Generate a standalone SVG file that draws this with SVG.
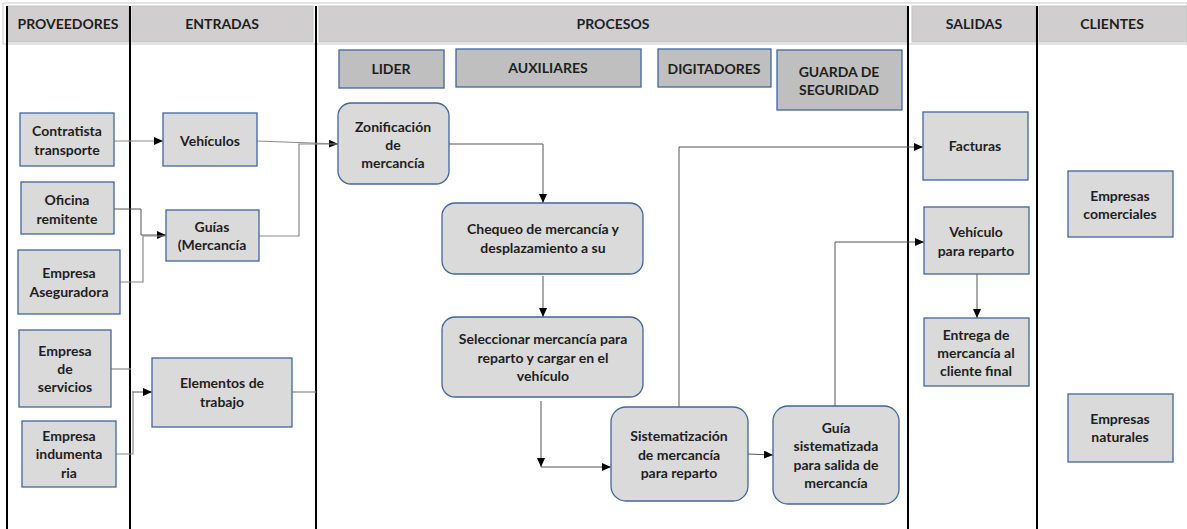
<svg xmlns="http://www.w3.org/2000/svg" width="1187" height="529" viewBox="0 0 1187 529">
<style>
  text{font-family:"Lato","Liberation Sans",sans-serif;font-weight:bold;font-size:14px;fill:#1e1e1e;text-anchor:middle}
  .hd{fill:#d0cece;stroke:#c4c4c4;stroke-width:1}
  .hdt{font-size:14px}
  .box{fill:#dadada;stroke:#41669e;stroke-width:1.3}
  .role{fill:#bfbfbf;stroke:#41669e;stroke-width:1.3}
  .lane{stroke:#000;stroke-width:2}
  .c{fill:none;stroke:#555;stroke-width:1}
  .cg{fill:none;stroke:#8a8a8a;stroke-width:1.2}
</style>
<defs>
  <marker id="ah" markerWidth="9" markerHeight="8" refX="9" refY="4" orient="auto" markerUnits="userSpaceOnUse">
    <path d="M0,0 L9,4 L0,8 z" fill="#000"/>
  </marker>
</defs>
<rect width="1187" height="529" fill="#fff"/>

<g id="header">
  <rect x="3" y="3" width="1184" height="41" fill="none" stroke="#c8c8c8" stroke-width="1"/>
  <rect class="hd" x="7" y="6" width="122" height="36"/>
  <rect class="hd" x="132" y="6" width="181" height="36"/>
  <rect class="hd" x="319" y="6" width="588" height="36"/>
  <rect class="hd" x="912" y="6" width="124" height="36"/>
  <rect class="hd" x="1039" y="6" width="148" height="36"/>
  <text class="hdt" x="68" y="29">PROVEEDORES</text>
  <text class="hdt" x="222" y="29">ENTRADAS</text>
  <text class="hdt" x="613" y="29">PROCESOS</text>
  <text class="hdt" x="974" y="29">SALIDAS</text>
  <text class="hdt" x="1112" y="29">CLIENTES</text>
</g>

<g id="lanes">
  <line class="lane" x1="7" y1="6" x2="7" y2="529"/>
  <line class="lane" x1="130" y1="6" x2="130" y2="529"/>
  <line class="lane" x1="316" y1="6" x2="316" y2="529"/>
  <line class="lane" x1="908" y1="6" x2="908" y2="529"/>
  <line class="lane" x1="1037" y1="6" x2="1037" y2="529"/>
</g>

<g id="connectors">
  <path class="cg" d="M114,141 H163" marker-end="url(#ah)"/>
  <path class="cg" d="M257,141 L338,144" marker-end="url(#ah)"/>
  <path class="cg" d="M259,236 H299 V144 H338"/>
  <path class="c" d="M114,209 H141 V235 H166" marker-end="url(#ah)"/>
  <path class="cg" d="M120,282 H143 V236 H166"/>
  <path class="cg" d="M111,369 H131"/>
  <path class="c" d="M132,392 H152" marker-end="url(#ah)"/>
  <path class="cg" d="M116,454 H133 V392"/>
  <path class="cg" d="M292,392 H316"/>
  <path class="c" d="M449,144 H543 V203" marker-end="url(#ah)"/>
  <path class="c" d="M543,276 V317" marker-end="url(#ah)"/>
  <path class="c" d="M541,401 L541,467" marker-end="url(#ah)"/>
  <path class="c" d="M541,467 H611" marker-end="url(#ah)"/>
  <path class="c" d="M748,454 L773,455" marker-end="url(#ah)"/>
  <path class="c" d="M679,407 V147 H923" marker-end="url(#ah)"/>
  <path class="c" d="M835,406 V242 H924" marker-end="url(#ah)"/>
  <path class="c" d="M977,274 V318" marker-end="url(#ah)"/>
</g>

<g id="contratista">
  <rect class="box" x="20" y="113" width="94" height="53"/>
  <text x="67" y="136">Contratista</text>
  <text x="67" y="155">transporte</text>
</g>
<g id="oficina">
  <rect class="box" x="21" y="182" width="93" height="52"/>
  <text x="67" y="205">Oficina</text>
  <text x="67" y="224">remitente</text>
</g>
<g id="aseguradora">
  <rect class="box" x="18" y="250" width="102" height="64"/>
  <text x="69" y="278">Empresa</text>
  <text x="69" y="297">Aseguradora</text>
</g>
<g id="servicios">
  <rect class="box" x="19" y="330" width="92" height="77"/>
  <text x="65" y="356">Empresa</text>
  <text x="65" y="374">de</text>
  <text x="65" y="392">servicios</text>
</g>
<g id="indumentaria">
  <rect class="box" x="22" y="421" width="94" height="66"/>
  <text x="69" y="441">Empresa</text>
  <text x="69" y="459">indumenta</text>
  <text x="69" y="478">ria</text>
</g>

<g id="vehiculos">
  <rect class="box" x="163" y="113" width="94" height="53"/>
  <text x="210" y="146">Vehículos</text>
</g>
<g id="guias">
  <rect class="box" x="166" y="210" width="93" height="51"/>
  <text x="212" y="232">Guías</text>
  <text x="212" y="250">(Mercancía</text>
</g>
<g id="elementos">
  <rect class="box" x="152" y="358" width="140" height="69"/>
  <text x="222" y="388">Elementos de</text>
  <text x="222" y="407">trabajo</text>
</g>

<g id="lider">
  <rect class="role" x="339" y="50" width="105" height="38"/>
  <text x="391" y="74">LIDER</text>
</g>
<g id="auxiliares">
  <rect class="role" x="456" y="49" width="185" height="38"/>
  <text x="548" y="73">AUXILIARES</text>
</g>
<g id="digitadores">
  <rect class="role" x="658" y="49" width="113" height="38"/>
  <text x="714" y="73.5">DIGITADORES</text>
</g>
<g id="guarda">
  <rect class="role" x="777" y="50" width="125" height="60"/>
  <text x="839" y="77">GUARDA DE</text>
  <text x="839" y="95">SEGURIDAD</text>
</g>

<g id="zonificacion">
  <rect class="box" x="338" y="103" width="111" height="81" rx="13"/>
  <text x="393" y="132">Zonificación</text>
  <text x="393" y="150">de</text>
  <text x="393" y="168">mercancía</text>
</g>
<g id="chequeo">
  <rect class="box" x="442" y="203" width="201" height="71" rx="13"/>
  <text x="543" y="234">Chequeo de mercancía  y</text>
  <text x="543" y="253">desplazamiento a su</text>
</g>
<g id="seleccionar">
  <rect class="box" x="442" y="317" width="201" height="80" rx="13"/>
  <text x="543" y="344">Seleccionar mercancía para</text>
  <text x="543" y="363">reparto y cargar en el</text>
  <text x="543" y="381">vehículo</text>
</g>
<g id="sistematizacion">
  <rect class="box" x="611" y="407" width="137" height="94" rx="15"/>
  <text x="679" y="441">Sistematización</text>
  <text x="679" y="460">de mercancía</text>
  <text x="679" y="478">para reparto</text>
</g>
<g id="guia">
  <rect class="box" x="773" y="406" width="126" height="98" rx="15"/>
  <text x="836" y="433">Guía</text>
  <text x="836" y="451">sistematizada</text>
  <text x="836" y="470">para salida de</text>
  <text x="836" y="488">mercancía</text>
</g>

<g id="facturas">
  <rect class="box" x="923" y="112" width="105" height="68"/>
  <text x="975" y="151">Facturas</text>
</g>
<g id="vehiculo-reparto">
  <rect class="box" x="924" y="207" width="105" height="67"/>
  <text x="976" y="237">Vehículo</text>
  <text x="976" y="256">para reparto</text>
</g>
<g id="entrega">
  <rect class="box" x="924" y="318" width="105" height="68"/>
  <text x="976" y="340">Entrega de</text>
  <text x="976" y="358">mercancía al</text>
  <text x="976" y="376">cliente final</text>
</g>

<g id="empresas-comerciales">
  <rect class="box" x="1068" y="171" width="105" height="66"/>
  <text x="1120" y="201">Empresas</text>
  <text x="1120" y="219">comerciales</text>
</g>
<g id="empresas-naturales">
  <rect class="box" x="1068" y="394" width="105" height="68"/>
  <text x="1120" y="424">Empresas</text>
  <text x="1120" y="442">naturales</text>
</g>
</svg>
